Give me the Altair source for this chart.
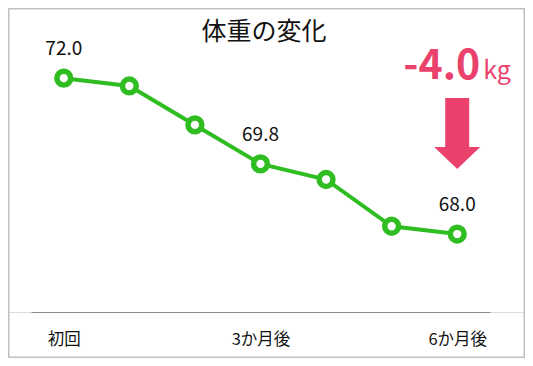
import altair as alt
import pandas as pd

# ---- data ----
months = ["初回", "1か月後", "2か月後", "3か月後", "4か月後", "5か月後", "6か月後"]
weights = [72.0, 71.8, 70.8, 69.8, 69.4, 68.2, 68.0]
labelled = [True, False, False, True, False, False, True]
axis_labels = ["初回", "3か月後", "6か月後"]
title_text = "体重の変化"
unit_text = "kg"

GREEN = "#2fbd22"
PINK = "#ea416d"
FONT = "Noto Sans CJK JP"

df = pd.DataFrame({"month": months, "weight": weights, "lab": labelled})
diff = weights[-1] - weights[0]
ann = pd.DataFrame({"month": [months[-1]], "diff": [f"{diff:.1f}"], "unit": [unit_text]})
ttl = pd.DataFrame({"t": [title_text]})

xscale = alt.Scale(domain=months, range=[23, 482], padding=0.5)
yscale = alt.Scale(domain=[66, 73.8], range=[304, 0], zero=False, nice=False)

x_axis = alt.Axis(values=axis_labels, title=None, labelAngle=0, ticks=False, grid=False,
                  domain=True, domainColor="#8c8c8c", domainWidth=1, labelFontSize=16.5,
                  labelFont=FONT, labelColor="#111111", labelPadding=19)

X = alt.X("month:N", sort=months, scale=xscale, axis=x_axis)
Y = alt.Y("weight:Q", scale=yscale, axis=None)

base = alt.Chart(df)

line = base.mark_line(color=GREEN, strokeWidth=4).encode(x=X, y=Y)
pts = base.mark_point(shape="circle", size=190, fill="white", fillOpacity=1, stroke=GREEN,
                      strokeWidth=5.5, opacity=1).encode(x=X, y=Y)
vals = base.transform_filter("datum.lab").mark_text(
    fontSize=19, font=FONT, color="#111111", dy=-29, baseline="middle"
).encode(x=X, y=Y, text=alt.Text("weight:Q", format=".1f"))

title = alt.Chart(ttl).mark_text(fontSize=25, font=FONT, color="#111111", baseline="middle").encode(
    x=alt.value(256), y=alt.value(24), text="t:N")

border = alt.Chart(ttl).mark_rect(fill="white", fillOpacity=0, stroke="#c0c0c0", strokeWidth=1.5).encode(
    x=alt.value(0.75), x2=alt.value(516.25), y=alt.value(0.75), y2=alt.value(349.25))

big = alt.Chart(ann).mark_text(align="right", baseline="alphabetic", dx=23, fontSize=41,
                               fontWeight="bold", font=FONT, color=PINK).encode(
    x=X, y=alt.value(71), text="diff:N")
unit = alt.Chart(ann).mark_text(align="left", baseline="alphabetic", dx=26, fontSize=25,
                                font=FONT, color=PINK).encode(
    x=X, y=alt.value(71), text="unit:N")
arrow_path = "M -0.338 -1 L 0.338 -1 L 0.338 0.38 L 0.648 0.38 L 0 1 L -0.648 0.38 L -0.338 0.38 Z"
arrow = alt.Chart(ann).mark_point(shape=arrow_path, size=5041, filled=True, color=PINK,
                                  opacity=1, strokeWidth=0).encode(x=X, y=alt.value(125.5))

chart = alt.layer(line, pts, vals, title, big, unit, arrow, border).properties(
    width=517, height=304,
    padding={"left": 0, "top": 0, "right": 0, "bottom": 46},
    autosize=alt.AutoSizeParams(type="none"),
).configure_view(strokeOpacity=0).configure(background="white")

chart.save("out.html", embed_options={"renderer": "svg", "actions": False})
